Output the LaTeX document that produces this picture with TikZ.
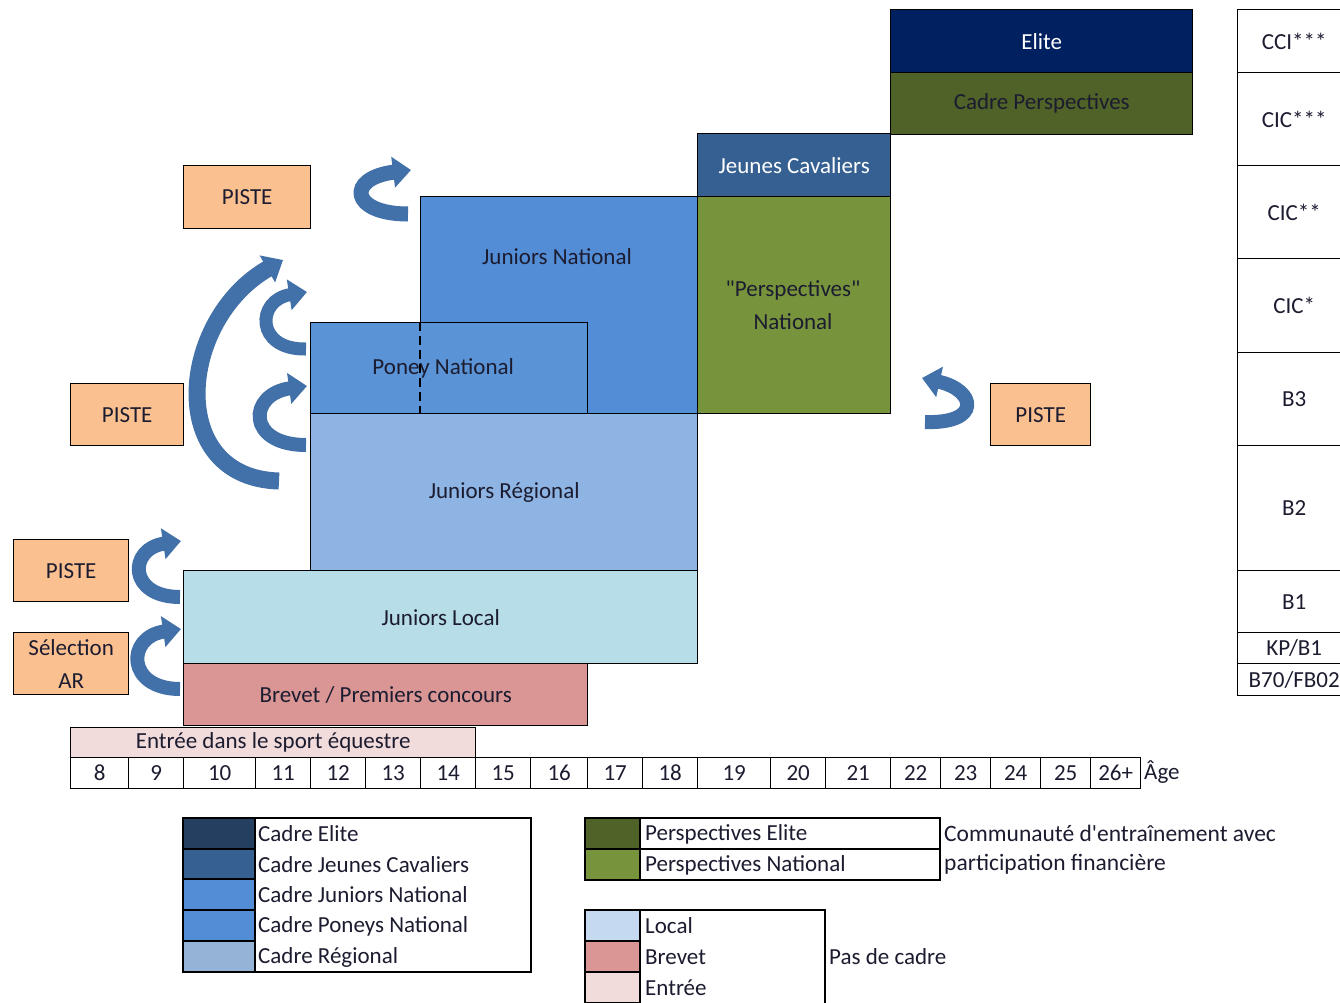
\documentclass[tikz,border=0pt]{standalone}
\usepackage{fontspec}
\setmainfont{Carlito}[Ligatures=TeXOff]
\usetikzlibrary{arrows.meta}
\definecolor{entreeC}{HTML}{F2DCDB}
\definecolor{brevetC}{HTML}{DA9694}
\definecolor{localC}{HTML}{B7DEE8}
\definecolor{regC}{HTML}{8DB4E2}
\definecolor{jnatC}{HTML}{538DD5}
\definecolor{poneyC}{HTML}{5A93D6}
\definecolor{perspC}{HTML}{77933C}
\definecolor{jcavC}{HTML}{366092}
\definecolor{eliteC}{HTML}{002060}
\definecolor{cperspC}{HTML}{4F6228}
\definecolor{pisteC}{HTML}{FAC090}
\definecolor{arrowC}{HTML}{4270A8}
\definecolor{lgEliteC}{HTML}{243F60}
\definecolor{lgRegC}{HTML}{95B3D7}
\definecolor{lgLocalC}{HTML}{C5D9F1}
\definecolor{txtC}{HTML}{1C1C30}
\begin{document}
\begin{tikzpicture}[x=1pt,y=-1pt,
  cellbox/.style={draw=black, line width=1.4pt, inner sep=0pt, anchor=north west, align=center,
    text=txtC, font=\fontsize{23}{33}\selectfont},
  lbl/.style={inner sep=0pt, align=center, text=txtC, font=\fontsize{23}{33}\selectfont},
  lgtext/.style={anchor=west, inner sep=0pt, text=txtC, font=\fontsize{23}{28}\selectfont},
  curvarrow/.style={draw=arrowC, line width=#1, -{Triangle[width=30pt,length=18pt]}},
  curvarrow/.default=13pt]
\useasboundingbox (0,0) rectangle (1340,1002);
\clip (0,0) rectangle (1340,1002);
\fill[white] (0,0) rectangle (1340,1002);

% main stair blocks
\node[cellbox, fill=entreeC, minimum width=405pt, minimum height=30pt] (entree) at (70,727) {Entrée dans le sport équestre};
\node[cellbox, fill=brevetC, minimum width=404pt, minimum height=62pt] (brevet) at (183,663) {Brevet / Premiers concours};
\node[cellbox, fill=localC, minimum width=514pt, minimum height=93pt] (local) at (183,570) {Juniors Local};
\node[cellbox, fill=regC, minimum width=387pt, minimum height=157pt] (regional) at (310,413) {Juniors Régional};
\node[cellbox, fill=jnatC, minimum width=277pt, minimum height=217pt] (jnat) at (420,196) {};
\node[lbl] (jnatlbl) at (557,257) {Juniors National};
\node[cellbox, fill=poneyC, minimum width=277pt, minimum height=91pt] (poney) at (310,322) {Poney National\hspace*{12pt}};
\draw[line width=1.4pt, dash pattern=on 9pt off 5pt] (poney.north west) ++(110,0) coordinate (dashtop) -- (dashtop |- poney.south) coordinate (dashbot);
\node[cellbox, fill=perspC, minimum width=193pt, minimum height=217pt] (persp) at (697,196) {};
\node[lbl] (persplbl) at (793,305) {"Perspectives"\\National};
\node[cellbox, fill=jcavC, minimum width=193pt, minimum height=63pt, text=white] (jcav) at (697,133) {Jeunes Cavaliers};
\node[cellbox, fill=eliteC, minimum width=302pt, minimum height=63pt, text=white] (elite) at (890,9) {Elite};
\node[cellbox, fill=cperspC, minimum width=302pt, minimum height=62pt] (cpersp) at (890,72) {Cadre Perspectives};

% right level column
\foreach \ya/\h/\t [count=\i] in {9/63/{CCI***}, 72/93/{CIC***}, 165/93/{CIC**}, 258/94/{CIC*}, 352/93/{B3}, 445/125/{B2}, 570/62/{B1}, 632/31/{KP/B1}, 663/32/{B70/FB02}}{
  \node[cellbox, fill=white, minimum width=113pt, minimum height=\h pt] (lvl\i) at (1237,\ya) {\t};
}

% PISTE boxes
\node[cellbox, fill=pisteC, minimum width=127pt, minimum height=63pt] (piste1) at (183,165) {PISTE};
\node[cellbox, fill=pisteC, minimum width=113pt, minimum height=62pt] (piste2) at (70,383) {PISTE};
\node[cellbox, fill=pisteC, minimum width=115pt, minimum height=62pt] (piste3) at (13,539) {PISTE};
\node[cellbox, fill=pisteC, minimum width=115pt, minimum height=62pt] (selar) at (13,632) {Sélection\\AR};
\node[cellbox, fill=pisteC, minimum width=100pt, minimum height=62pt] (piste4) at (990,383) {PISTE};

% age row
\foreach \a/\b/\t [count=\i] in {70/128/8, 128/183/9, 183/255/10, 255/310/11, 310/365/12, 365/420/13, 420/475/14, 475/530/15, 530/587/16, 587/642/17, 642/697/18, 697/770/19, 770/825/20, 825/890/21, 890/940/22, 940/990/23, 990/1040/24, 1040/1090/25, 1090/1140/26+}{
  \pgfmathsetmacro\w{\b-\a}
  \node[cellbox, fill=white, minimum width=\w pt, minimum height=31pt] (age\i) at (\a,757) {\t};
}
\node[lgtext] (agelbl) at (1144,772) {Âge};

% curved arrows
\coordinate (a1t) at (408,214); \coordinate (a1h) at (411,170);
\draw[curvarrow=15pt] (a1t) .. controls (350,214) and (346,178) .. (a1h);
\coordinate (a2t) at (279,481); \coordinate (a2h) at (283,260);
\draw[curvarrow=17pt] (a2t) .. controls (165,478) and (178,320) .. (a2h);
\coordinate (a3t) at (306,349); \coordinate (a3h) at (307,292);
\draw[curvarrow] (a3t) .. controls (255,350) and (256,300) .. (a3h);
\coordinate (a4t) at (306,445); \coordinate (a4h) at (307,386);
\draw[curvarrow=14pt] (a4t) .. controls (246,445) and (248,394) .. (a4h);
\coordinate (a5t) at (180,597); \coordinate (a5h) at (181,541);
\draw[curvarrow=14pt] (a5t) .. controls (128,597) and (128,549) .. (a5h);
\coordinate (a6t) at (180,689); \coordinate (a6h) at (181,629);
\draw[curvarrow=14pt] (a6t) .. controls (126,689) and (126,637) .. (a6h);
\coordinate (a7t) at (925,422); \coordinate (a7h) at (922,378);
\draw[curvarrow=14pt] (a7t) .. controls (982,424) and (976,390) .. (a7h);

% legend 1
\draw[line width=1.4pt] (183,818) rectangle (531,972);
\foreach \ya/\c/\t [count=\i] in {818/lgEliteC/Cadre Elite, 849/jcavC/Cadre Jeunes Cavaliers, 879/jnatC/Cadre Juniors National, 910/jnatC/Cadre Poneys National, 941/lgRegC/Cadre Régional}{
  \draw[line width=1.4pt, fill=\c] (183,\ya) rectangle ++(72,31);
  \node[lgtext] (lgA\i) at (258,\ya+16) {\t};
}
% legend 2
\draw[line width=1.4pt] (585,818) rectangle (940,880);
\foreach \ya/\c/\t [count=\i] in {818/cperspC/Perspectives Elite, 849/perspC/Perspectives National}{
  \draw[line width=1.4pt, fill=\c] (585,\ya) rectangle ++(55,31);
  \draw[line width=1.4pt] (640,\ya) rectangle (940,\ya+31);
  \node[lgtext] (lgB\i) at (645,\ya+16) {\t};
}
\node[lgtext, font=\fontsize{23.5}{28}\selectfont] (lgB3) at (944,833) {Communauté d'entraînement avec};
\node[lgtext, font=\fontsize{23.5}{28}\selectfont] (lgB4) at (944,864) {participation financière};
% legend 3
\draw[line width=1.4pt] (585,910) rectangle (825,1020);
\foreach \ya/\c/\t [count=\i] in {910/lgLocalC/Local, 941/brevetC/Brevet, 972/entreeC/Entrée}{
  \draw[line width=1.4pt, fill=\c] (585,\ya) rectangle ++(55,31);
  \node[lgtext] (lgC\i) at (645,\ya+16) {\t};
}
\draw[line width=1.4pt, fill=entreeC] (585,1003) rectangle ++(55,31);
\node[lgtext] (lgC4) at (829,957) {Pas de cadre};
\end{tikzpicture}
\end{document}
